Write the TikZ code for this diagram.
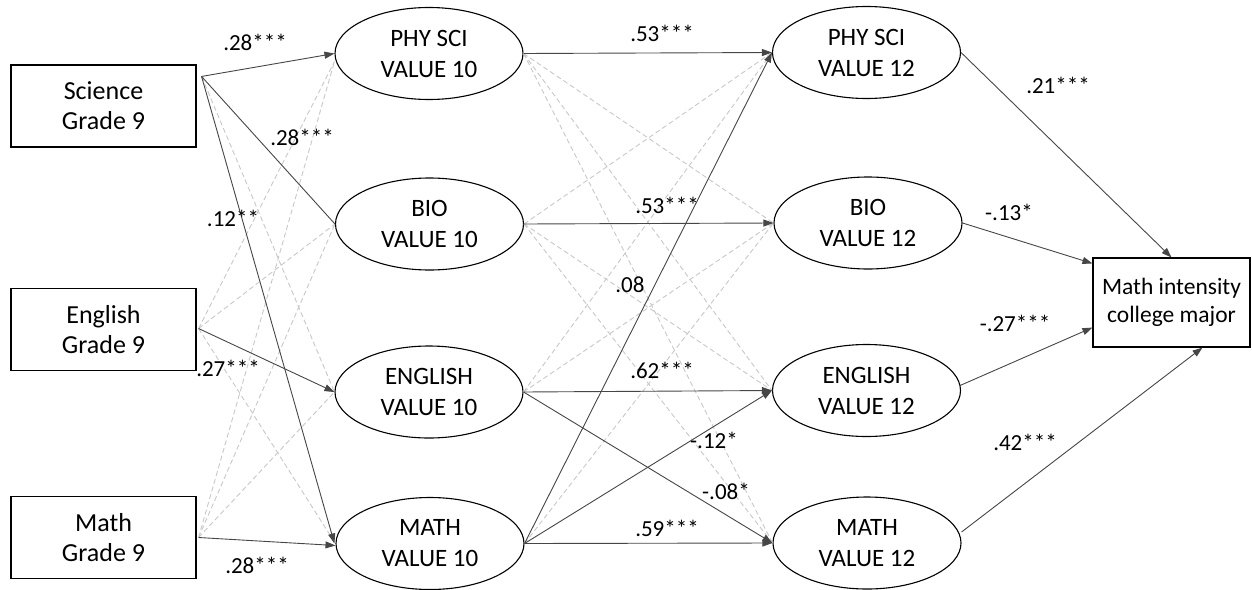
\documentclass[tikz,border=0pt]{standalone}
\usepackage{fontspec}
\setmainfont{Carlito}
\usetikzlibrary{arrows.meta,shapes.geometric}
\definecolor{solidgray}{RGB}{70,70,70}
\definecolor{dashgray}{RGB}{200,200,200}
\tikzset{
  box/.style={draw=black,line width=1.1pt,rectangle,inner sep=0pt,minimum width=185pt,minimum height=82pt,align=center,font=\fontsize{26}{30}\selectfont},
  outbox/.style={draw=black,line width=1.1pt,rectangle,inner sep=0pt,minimum width=157pt,minimum height=89pt,align=center,font=\fontsize{23.5}{28}\selectfont},
  lat/.style={draw=black,line width=1.1pt,ellipse,inner sep=0pt,minimum width=188pt,minimum height=92pt,align=center,font=\fontsize{25}{31}\selectfont},
  coef/.style={inner sep=0pt,font=\fontsize{23}{26}\selectfont},
  sig/.style={draw=solidgray,line width=0.9pt,-{Triangle[length=10pt,width=7pt]}},
  sigplain/.style={draw=solidgray,line width=0.9pt},
  ns/.style={draw=dashgray,line width=0.9pt,dash pattern=on 5pt off 3pt}
}
\begin{document}
\begin{tikzpicture}[x=1pt,y=-1pt]
\useasboundingbox (0,0) rectangle (1252,589);
% observed grade 9
\node[box] (sci) at (103.5,106) {Science\\Grade 9};
\node[box] (eng) at (103.5,329.5) {English\\Grade 9};
\node[box] (mat) at (103.5,537.5) {Math\\Grade 9};
% latent value 10
\node[lat] (phy10) at (429,53.5) {PHY SCI\\VALUE 10};
\node[lat] (bio10) at (429.5,224) {BIO\\VALUE 10};
\node[lat] (eng10) at (429,392) {ENGLISH\\VALUE 10};
\node[lat] (mat10) at (430,543.5) {MATH\\VALUE 10};
% latent value 12
\node[lat] (phy12) at (866.5,52.5) {PHY SCI\\VALUE 12};
\node[lat] (bio12) at (868,223) {BIO\\VALUE 12};
\node[lat] (eng12) at (866.5,390.5) {ENGLISH\\VALUE 12};
\node[lat] (mat12) at (867,543) {MATH\\VALUE 12};
% outcome
\node[outbox] (out) at (1171.5,302.5) {Math intensity\\college major};

\coordinate (scio) at ([xshift=5pt,yshift=-12pt]sci.north east);
\coordinate (engo) at ([xshift=2pt,yshift=1pt]eng.east);
\coordinate (mato) at ([xshift=2pt]mat.east);

% non-significant paths (dashed)
\draw[ns] (scio) -- (eng10.west);
\draw[ns] (engo) -- ([yshift=-8pt]phy10.west);
\draw[ns] (engo) -- (bio10.west);
\draw[ns] (engo) -- (mat10.west);
\draw[ns] (mato) -- ([yshift=-8pt]phy10.west);
\draw[ns] (mato) -- (bio10.west);
\draw[ns] (mato) -- (eng10.west);

\draw[ns] (phy10.east) -- (bio12.west);
\draw[ns] (phy10.east) -- (eng12.west);
\draw[ns] (phy10.east) -- (mat12.west);
\draw[ns] (bio10.east) -- (phy12.west);
\draw[ns] (bio10.east) -- (eng12.west);
\draw[ns] (bio10.east) -- (mat12.west);
\draw[ns] (eng10.east) -- (phy12.west);
\draw[ns] (eng10.east) -- (bio12.west);
\draw[ns] (mat10.east) -- (bio12.west);

% significant paths grade 9 -> value 10
\draw[sig] (scio) -- (phy10.west);
\draw[sigplain] (scio) -- (bio10.west);
\draw[sig] (scio) -- ([xshift=-1pt]mat10.west);
\draw[sig] (engo) -- (eng10.west);
\draw[sig] (mato) -- ([yshift=-2pt]mat10.west);

% value 10 -> value 12
\draw[sig] (phy10.east) -- (phy12.west);
\draw[sig] (bio10.east) -- (bio12.west);
\draw[sig] (eng10.east) -- (eng12.west);
\draw[sig] (eng10.east) -- (mat12.west);
\draw[sig] (mat10.east) -- (phy12.west);
\draw[sig] (mat10.east) -- (eng12.west);
\draw[sig] (mat10.east) -- (mat12.west);

% value 12 -> outcome
\draw[sig] (phy12.east) -- (out.north);
\draw[sig] (bio12.east) -- ([yshift=-6pt]out.north west);
\draw[sig] ([xshift=-1pt,yshift=5pt]eng12.east) -- ([yshift=20pt]out.south west);
\draw[sig] ([yshift=11pt]mat12.east) -- ([xshift=31pt]out.south);

% coefficients
\node[coef] (c1) at (255,42) {.28***};
\node[coef] (c2) at (302,137) {.28***};
\node[coef] (c3) at (233,218) {.12**};
\node[coef] (c4) at (228,368) {.27***};
\node[coef] (c5) at (257,565) {.28***};
\node[coef] (c6) at (662,33) {.53***};
\node[coef] (c7) at (667,205) {.53***};
\node[coef] (c8) at (630,285) {.08};
\node[coef] (c9) at (662,370) {.62***};
\node[coef] (c10) at (714,440) {-.12*};
\node[coef] (c11) at (726,491) {-.08*};
\node[coef] (c12) at (667,528) {.59***};
\node[coef] (c13) at (1058,85) {.21***};
\node[coef] (c14) at (1009,212) {-.13*};
\node[coef] (c15) at (1015,323) {-.27***};
\node[coef] (c16) at (1025,442) {.42***};
\end{tikzpicture}
\end{document}
